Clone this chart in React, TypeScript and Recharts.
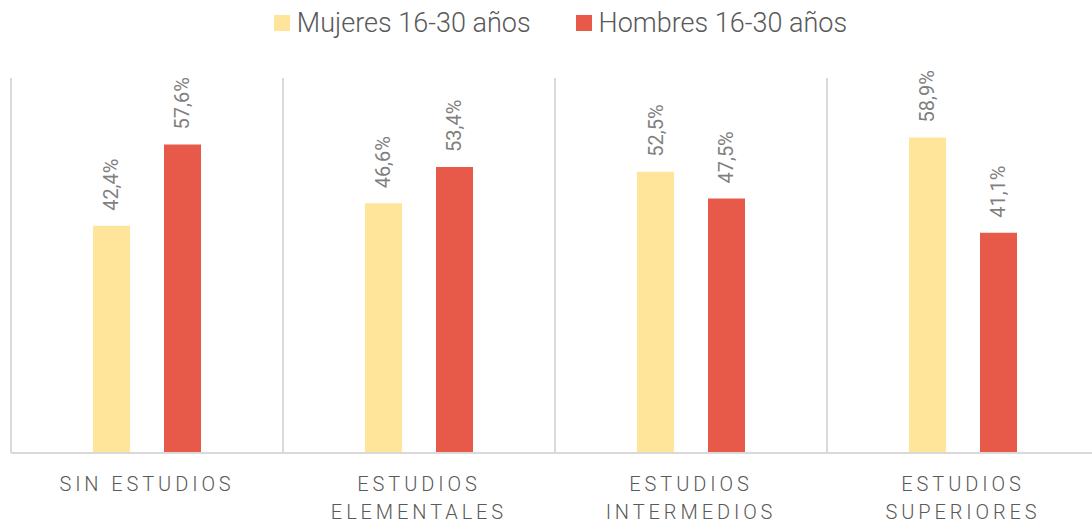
import React from 'react';
import { BarChart, Bar, XAxis, YAxis, CartesianGrid, Legend, LabelList } from 'recharts';

const CATEGORIES = ['SIN ESTUDIOS', 'ESTUDIOS ELEMENTALES', 'ESTUDIOS INTERMEDIOS', 'ESTUDIOS SUPERIORES'];
const MUJERES = [42.4, 46.6, 52.5, 58.9];
const HOMBRES = [57.6, 53.4, 47.5, 41.1];
const SERIES_NAMES = ['Mujeres 16-30 años', 'Hombres 16-30 años'];
const COLORS = ['#FFE599', '#E75A4A'];

const data = CATEGORIES.map((c, i) => ({ cat: c, mujeres: MUJERES[i], hombres: HOMBRES[i] }));

const FONT = 'Roboto, "Noto Sans", sans-serif';

const fmt = (v: number) => v.toFixed(1).replace('.', ',') + '%';

const DataLabel = (props: any) => {
  const { x, y, width, value } = props;
  const cx = Number(x) + Number(width) / 2;
  const ty = Number(y) - 15;
  return (
    <text
      x={cx}
      y={ty}
      transform={`rotate(-90 ${cx} ${ty})`}
      textAnchor="start"
      dominantBaseline="central"
      fill="#7f7f7f"
      fontSize={20}
      fontFamily={FONT}
    >
      {fmt(Number(value))}
    </text>
  );
};

const splitLabel = (s: string): string[] => {
  if (s.length <= 12) return [s];
  const idx = s.indexOf(' ');
  return [s.slice(0, idx), s.slice(idx + 1)];
};

const Tick = (props: any) => {
  const { x, y, payload } = props;
  const lines = splitLabel(String(payload.value));
  return (
    <g>
      {lines.map((l, i) => (
        <text
          key={i}
          x={x}
          y={Number(y) + 30 + i * 28}
          textAnchor="middle"
          fill="#595959"
          fontSize={20}
          fontWeight={300}
          fontFamily={FONT}
          letterSpacing={3.9}
        >
          {l}
        </text>
      ))}
    </g>
  );
};

const LegendContent = () => (
  <div
    style={{
      display: 'flex',
      justifyContent: 'center',
      alignItems: 'center',
      gap: 45,
      fontFamily: FONT,
      fontSize: 27,
      fontWeight: 300,
      lineHeight: '30px',
      color: '#595959',
    }}
  >
    {SERIES_NAMES.map((n, i) => (
      <div key={n} style={{ display: 'flex', alignItems: 'center' }}>
        <span style={{ display: 'inline-block', width: 16, height: 16, background: COLORS[i], marginRight: 7 }} />
        <span>{n}</span>
      </div>
    ))}
  </div>
);

const gridX = ({ offset }: any) => {
  const n = CATEGORIES.length;
  const out: number[] = [];
  for (let i = 0; i <= n; i++) out.push(offset.left + (i * offset.width) / n);
  return out;
};

export default function App() {
  return (
    <div style={{ position: 'fixed', top: 0, left: 0, width: 1092, height: 524, overflow: 'hidden', background: '#fff' }}>
      <BarChart
        width={1100}
        height={524}
        data={data}
        margin={{ top: 78, right: 1, bottom: 41, left: 11 }}
        barSize={37}
        barGap={34}
      >
        <CartesianGrid horizontal={false} vertical stroke="#d9d9d9" strokeWidth={2} verticalCoordinatesGenerator={gridX} />
        <XAxis
          dataKey="cat"
          height={30}
          axisLine={{ stroke: '#d9d9d9', strokeWidth: 2 }}
          tickLine={false}
          tick={<Tick />}
          interval={0}
        />
        <YAxis hide domain={[0, 70]} />
        <Legend
          verticalAlign="middle"
          align="center"
          layout="horizontal"
          wrapperStyle={{ top: 8, left: 0, width: 1121, height: 30 }}
          content={<LegendContent />}
        />
        <Bar dataKey="mujeres" name={SERIES_NAMES[0]} fill={COLORS[0]} isAnimationActive={false}>
          <LabelList dataKey="mujeres" content={<DataLabel />} />
        </Bar>
        <Bar dataKey="hombres" name={SERIES_NAMES[1]} fill={COLORS[1]} isAnimationActive={false}>
          <LabelList dataKey="hombres" content={<DataLabel />} />
        </Bar>
      </BarChart>
    </div>
  );
}
